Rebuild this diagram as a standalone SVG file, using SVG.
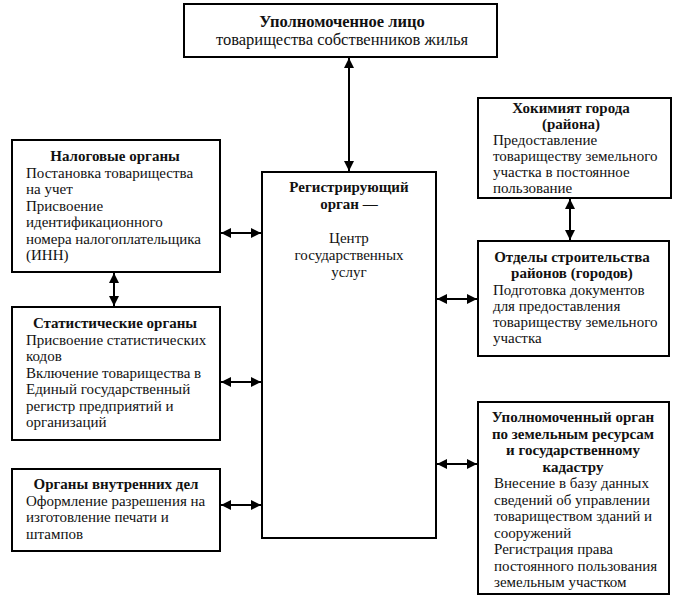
<svg xmlns="http://www.w3.org/2000/svg" width="679" height="612" viewBox="0 0 679 612">
<style>
.box{fill:#fff;stroke:#000;stroke-width:2}
text{font-family:'Liberation Serif','Times New Roman','DejaVu Serif',serif;font-size:15px;fill:#111}
.b{font-weight:bold}
.c{text-anchor:middle}
.t{font-size:16.5px}
.con{stroke:#000;stroke-width:2;fill:none;marker-start:url(#ah);marker-end:url(#ah)}
</style>
<defs>
<marker id="ah" viewBox="0 0 10 10" refX="10" refY="5" markerWidth="5" markerHeight="5" orient="auto-start-reverse" markerUnits="strokeWidth">
<path d="M0,0 L10,5 L0,10 z" fill="#000"/>
</marker>
</defs>
<rect width="679" height="612" fill="#fff"/>
<g id="connectors">
<line class="con" x1="349" y1="58" x2="349" y2="171"/>
<line class="con" x1="221" y1="233" x2="261" y2="233"/>
<line class="con" x1="114" y1="273" x2="114" y2="306"/>
<line class="con" x1="221" y1="382" x2="261" y2="382"/>
<line class="con" x1="221" y1="505" x2="261" y2="505"/>
<line class="con" x1="570" y1="199" x2="570" y2="240"/>
<line class="con" x1="437" y1="299" x2="477" y2="299"/>
<line class="con" x1="437" y1="464" x2="477" y2="464"/>
</g>
<g id="top">
<rect class="box" x="184" y="4" width="313" height="53"/>
<text class="b c t" x="342" y="27">Уполномоченное лицо</text>
<text class="c t" x="342" y="45">товарищества собственников жилья</text>
</g>
<g id="tax">
<rect class="box" x="12" y="140" width="208" height="132"/>
<text class="b c" x="115" y="161">Налоговые органы</text>
<text x="26" y="177.5">Постановка товарищества</text>
<text x="26" y="194">на учет</text>
<text x="26" y="210.5">Присвоение</text>
<text x="26" y="227">идентификационного</text>
<text x="26" y="243.5">номера налогоплательщика</text>
<text x="26" y="260">(ИНН)</text>
</g>
<g id="stat">
<rect class="box" x="12" y="307" width="208" height="133"/>
<text class="b c" x="115" y="328">Статистические органы</text>
<text x="26" y="344.5">Присвоение статистических</text>
<text x="26" y="361">кодов</text>
<text x="26" y="377.5">Включение товарищества в</text>
<text x="26" y="394">Единый государственный</text>
<text x="26" y="410.5">регистр предприятий и</text>
<text x="26" y="427">организаций</text>
</g>
<g id="interior">
<rect class="box" x="12" y="469" width="208" height="82"/>
<text class="b c" x="116" y="489">Органы внутренних дел</text>
<text x="26" y="505.5">Оформление разрешения на</text>
<text x="26" y="522">изготовление печати и</text>
<text x="26" y="538.5">штампов</text>
</g>
<g id="center">
<rect class="box" x="262" y="172" width="174" height="366"/>
<text class="b c" x="349" y="192">Регистрирующий</text>
<text class="b c" x="349" y="209">орган —</text>
<text class="c" x="349" y="243">Центр</text>
<text class="c" x="349" y="260">государственных</text>
<text class="c" x="349" y="277">услуг</text>
</g>
<g id="hokimiyat">
<rect class="box" x="478" y="98" width="193" height="100"/>
<text class="b c" x="571" y="113">Хокимият города</text>
<text class="b c" x="571" y="129">(района)</text>
<text x="493" y="145">Предоставление</text>
<text x="493" y="161">товариществу земельного</text>
<text x="493" y="177">участка в постоянное</text>
<text x="493" y="193">пользование</text>
</g>
<g id="construction">
<rect class="box" x="478" y="241" width="191" height="115"/>
<text class="b c" x="572" y="262">Отделы строительства</text>
<text class="b c" x="572" y="278">районов (городов)</text>
<text x="493" y="294.5">Подготовка документов</text>
<text x="493" y="311">для предоставления</text>
<text x="493" y="327">товариществу земельного</text>
<text x="493" y="343">участка</text>
</g>
<g id="land">
<rect class="box" x="478" y="402" width="191" height="192"/>
<text class="b c" x="573" y="422">Уполномоченный орган</text>
<text class="b c" x="573" y="438.5">по земельным ресурсам</text>
<text class="b c" x="573" y="455">и государственному</text>
<text class="b c" x="573" y="471.5">кадастру</text>
<text x="494" y="488">Внесение в базу данных</text>
<text x="494" y="504.5">сведений об управлении</text>
<text x="494" y="521">товариществом зданий и</text>
<text x="494" y="537.5">сооружений</text>
<text x="494" y="554">Регистрация права</text>
<text x="494" y="570.5">постоянного пользования</text>
<text x="494" y="587">земельным участком</text>
</g>
</svg>
